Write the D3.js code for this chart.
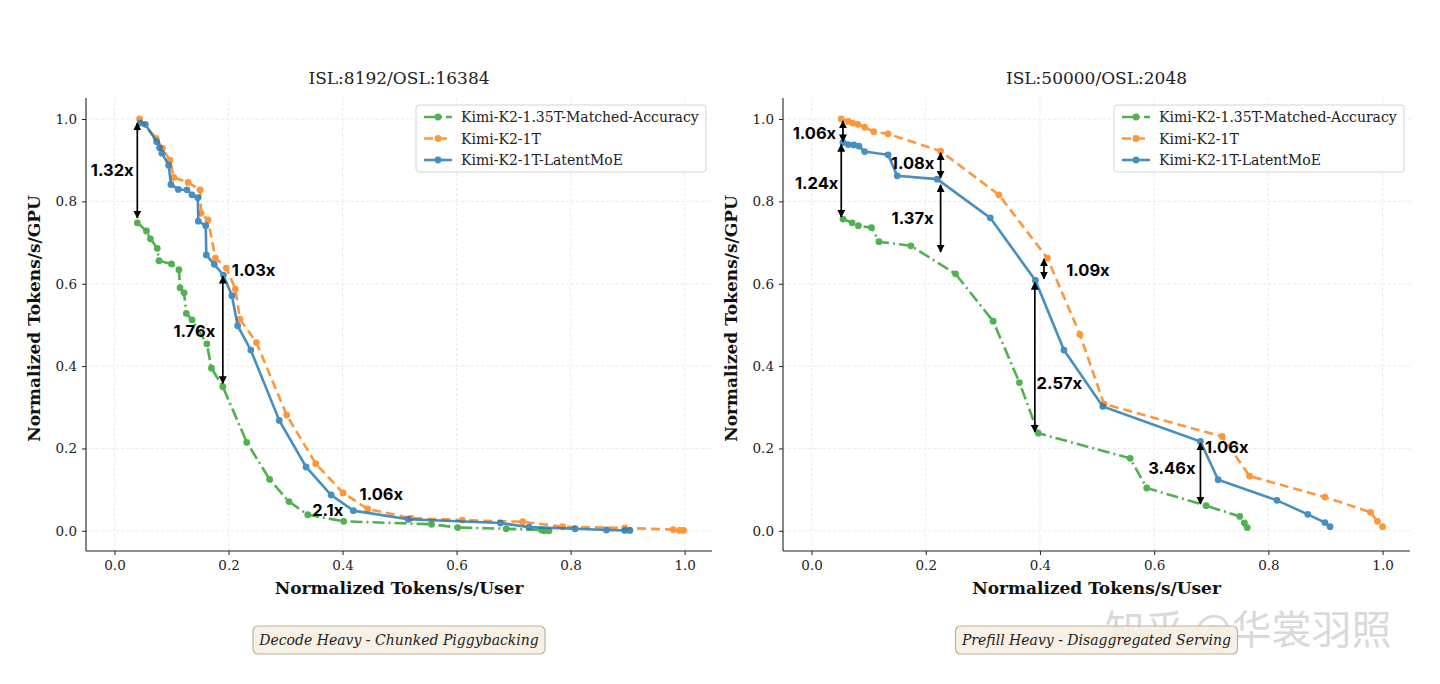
<!DOCTYPE html>
<html>
<head>
<meta charset="utf-8">
<script src="https://cdn.jsdelivr.net/npm/d3@7"></script>
<style>
  body { margin: 0; background: #fff; }
  svg { display: block; }
</style>
</head>
<body>
<div id="chart"></div>
<script>
// ---- data: left panel (ISL:8192/OSL:16384) ----
const leftGreenX = [0.040, 0.056, 0.063, 0.075, 0.078, 0.100, 0.113, 0.115, 0.122, 0.126, 0.136, 0.162, 0.170, 0.190, 0.232, 0.272, 0.306, 0.339, 0.402, 0.556, 0.602, 0.687, 0.749, 0.754, 0.762];
const leftGreenY = [0.748, 0.728, 0.709, 0.686, 0.656, 0.648, 0.634, 0.590, 0.578, 0.528, 0.512, 0.454, 0.395, 0.350, 0.215, 0.125, 0.071, 0.039, 0.023, 0.016, 0.008, 0.005, 0.002, 0.0, 0.0];
const leftOrangeX = [0.044, 0.073, 0.084, 0.097, 0.104, 0.129, 0.150, 0.152, 0.164, 0.177, 0.196, 0.212, 0.220, 0.249, 0.302, 0.353, 0.401, 0.444, 0.520, 0.610, 0.716, 0.786, 0.895, 0.980, 0.991, 0.998];
const leftOrangeY = [1.000, 0.953, 0.929, 0.900, 0.858, 0.846, 0.828, 0.771, 0.755, 0.662, 0.638, 0.587, 0.514, 0.457, 0.281, 0.163, 0.092, 0.053, 0.031, 0.026, 0.022, 0.010, 0.007, 0.003, 0.001, 0.001];
const leftBlueX = [0.045, 0.054, 0.074, 0.079, 0.083, 0.095, 0.099, 0.112, 0.127, 0.136, 0.146, 0.147, 0.160, 0.161, 0.175, 0.191, 0.206, 0.216, 0.239, 0.289, 0.336, 0.380, 0.419, 0.515, 0.677, 0.727, 0.808, 0.863, 0.895, 0.904];
const leftBlueY = [0.990, 0.987, 0.945, 0.930, 0.917, 0.888, 0.841, 0.829, 0.828, 0.816, 0.809, 0.752, 0.741, 0.670, 0.647, 0.621, 0.571, 0.498, 0.439, 0.268, 0.155, 0.087, 0.049, 0.028, 0.019, 0.009, 0.005, 0.002, 0.001, 0.001];

// ---- data: right panel (ISL:50000/OSL:2048) ----
const rightGreenX = [0.055, 0.071, 0.082, 0.105, 0.118, 0.174, 0.252, 0.318, 0.364, 0.397, 0.558, 0.587, 0.691, 0.750, 0.758, 0.763];
const rightGreenY = [0.757, 0.748, 0.741, 0.736, 0.702, 0.692, 0.624, 0.509, 0.360, 0.237, 0.176, 0.104, 0.061, 0.035, 0.019, 0.008];
const rightOrangeX = [0.052, 0.064, 0.072, 0.081, 0.093, 0.109, 0.134, 0.226, 0.328, 0.413, 0.470, 0.512, 0.719, 0.767, 0.899, 0.979, 0.991, 1.000];
const rightOrangeY = [1.000, 0.994, 0.990, 0.987, 0.980, 0.969, 0.964, 0.922, 0.816, 0.662, 0.477, 0.308, 0.229, 0.133, 0.082, 0.045, 0.023, 0.010];
const rightBlueX = [0.055, 0.064, 0.074, 0.083, 0.093, 0.134, 0.150, 0.220, 0.313, 0.392, 0.442, 0.510, 0.681, 0.712, 0.815, 0.869, 0.899, 0.908];
const rightBlueY = [0.943, 0.938, 0.937, 0.934, 0.921, 0.913, 0.862, 0.854, 0.760, 0.608, 0.439, 0.302, 0.217, 0.124, 0.074, 0.040, 0.020, 0.010];

// ---- annotations (speedup labels, arrows in data units) ----
const leftNotes = [
  { label: "1.32x", tx: -0.004, ty: 0.876, ax: 0.040, y1: 0.990, y2: 0.760 },
  { label: "1.76x", tx: 0.140, ty: 0.485, ax: 0.190, y1: 0.618, y2: 0.358 },
  { label: "1.03x", tx: 0.244, ty: 0.633, ax: null },
  { label: "2.1x", tx: 0.374, ty: 0.051, ax: null },
  { label: "1.06x", tx: 0.468, ty: 0.090, ax: null }
];
const rightNotes = [
  { label: "1.06x", tx: 0.005, ty: 0.966, ax: 0.055, y1: 0.995, y2: 0.945 },
  { label: "1.24x", tx: 0.009, ty: 0.845, ax: 0.052, y1: 0.938, y2: 0.762 },
  { label: "1.08x", tx: 0.177, ty: 0.893, ax: 0.226, y1: 0.918, y2: 0.857 },
  { label: "1.37x", tx: 0.177, ty: 0.760, ax: 0.226, y1: 0.840, y2: 0.677 },
  { label: "1.09x", tx: 0.484, ty: 0.633, ax: 0.407, y1: 0.660, y2: 0.612 },
  { label: "2.57x", tx: 0.434, ty: 0.359, ax: 0.391, y1: 0.603, y2: 0.240 },
  { label: "1.06x", tx: 0.727, ty: 0.204, ax: null },
  { label: "3.46x", tx: 0.631, ty: 0.153, ax: 0.681, y1: 0.213, y2: 0.065 }
];

const seriesNames = ["Kimi-K2-1.35T-Matched-Accuracy", "Kimi-K2-1T", "Kimi-K2-1T-LatentMoE"];
const seriesColors = ["#2ca02c", "#ff7f0e", "#1f77b4"];
const seriesDash = ["12,4,2,4", "9,5", null];
const xTicks = [0, 0.2, 0.4, 0.6, 0.8, 1.0];
const yTicks = [0, 0.2, 0.4, 0.6, 0.8, 1.0];

const panels = [
  { title: "ISL:8192/OSL:16384", caption: "Decode Heavy - Chunked Piggybacking", left: 86, right: 712,
    series: [[leftGreenX, leftGreenY], [leftOrangeX, leftOrangeY], [leftBlueX, leftBlueY]], notes: leftNotes, capW: 292 },
  { title: "ISL:50000/OSL:2048", caption: "Prefill Heavy - Disaggregated Serving", left: 783, right: 1410,
    series: [[rightGreenX, rightGreenY], [rightOrangeX, rightOrangeY], [rightBlueX, rightBlueY]], notes: rightNotes, capW: 282 }
];

const width = 1440, height = 684;
const plotTop = 98, plotBottom = 551;
const serif = "'DejaVu Serif', serif";
const boldSans = "Inter, 'DejaVu Sans', sans-serif";

const svg = d3.select("#chart").append("svg")
  .attr("width", width)
  .attr("height", height);

const defs = svg.append("defs");
["start", "end"].forEach(k => {
  defs.append("marker")
    .attr("id", "arrow-" + k)
    .attr("viewBox", "0 0 10 10")
    .attr("refX", k === "end" ? 9 : 1)
    .attr("refY", 5)
    .attr("markerWidth", 8)
    .attr("markerHeight", 8)
    .attr("markerUnits", "userSpaceOnUse")
    .attr("orient", "auto")
    .append("path")
    .attr("d", k === "end" ? "M0,0 L10,5 L0,10 Z" : "M10,0 L0,5 L10,10 Z")
    .attr("fill", "#000");
});

const y = d3.scaleLinear().domain([-0.049, 1.051]).range([plotBottom, plotTop]);

// faint watermark behind everything
svg.append("text").attr("x", 1248).attr("y", 644).attr("text-anchor", "middle")
  .attr("font-family", "'Noto Sans CJK SC', sans-serif").attr("font-size", 40)
  .attr("fill", "#b4b4b4").attr("fill-opacity", 0.5).text("知乎 @华裳羽照");

panels.forEach(p => {
  const x = d3.scaleLinear().domain([-0.05, 1.048]).range([p.left, p.right]);
  const cx = (p.left + p.right) / 2;
  const g = svg.append("g");

  // grid
  g.append("g").selectAll("line").data(xTicks).join("line")
    .attr("x1", d => x(d)).attr("x2", d => x(d))
    .attr("y1", plotTop).attr("y2", plotBottom)
    .attr("stroke", "#e6e6e6").attr("stroke-width", 0.8).attr("stroke-dasharray", "3,2");
  g.append("g").selectAll("line").data(yTicks).join("line")
    .attr("x1", p.left).attr("x2", p.right)
    .attr("y1", d => y(d)).attr("y2", d => y(d))
    .attr("stroke", "#e6e6e6").attr("stroke-width", 0.8).attr("stroke-dasharray", "3,2");

  // axes
  const xAxis = g.append("g")
    .attr("transform", `translate(0,${plotBottom})`)
    .call(d3.axisBottom(x).tickValues(xTicks).tickFormat(d3.format(".1f")).tickSizeOuter(0).tickSize(4).tickPadding(5));
  const yAxis = g.append("g")
    .attr("transform", `translate(${p.left},0)`)
    .call(d3.axisLeft(y).tickValues(yTicks).tickFormat(d3.format(".1f")).tickSizeOuter(0).tickSize(4).tickPadding(5));
  [xAxis, yAxis].forEach(a => {
    a.select(".domain").attr("stroke", "#222").attr("stroke-width", 1.1);
    a.selectAll(".tick line").attr("stroke", "#222");
    a.selectAll(".tick text").attr("font-family", serif).attr("font-size", 13.5).attr("fill", "#222");
  });
  xAxis.select(".domain").attr("d", `M${p.left},0H${p.right}`);
  yAxis.select(".domain").attr("d", `M0,${plotBottom}V${plotTop}`);

  // title & labels
  g.append("text").attr("x", cx).attr("y", 84).attr("text-anchor", "middle")
    .attr("font-family", serif).attr("font-size", 17).attr("fill", "#222").text(p.title);
  g.append("text").attr("x", cx).attr("y", 594).attr("text-anchor", "middle")
    .attr("font-family", serif).attr("font-size", 17).attr("font-weight", "bold").attr("fill", "#111")
    .text("Normalized Tokens/s/User");
  g.append("text").attr("transform", `translate(${p.left - 46},${(plotTop + plotBottom) / 2 - 6}) rotate(-90)`)
    .attr("text-anchor", "middle")
    .attr("font-family", serif).attr("font-size", 17).attr("font-weight", "bold").attr("fill", "#111")
    .text("Normalized Tokens/s/GPU");

  // series
  const line = d3.line().x(d => x(d[0])).y(d => y(d[1]));
  p.series.forEach((s, i) => {
    const pts = s[0].map((v, j) => [v, s[1][j]]);
    const sg = g.append("g").attr("opacity", 0.82);
    sg.append("path").datum(pts)
      .attr("d", line)
      .attr("fill", "none")
      .attr("stroke", seriesColors[i])
      .attr("stroke-width", 2.6)
      .attr("stroke-dasharray", seriesDash[i]);
    sg.selectAll("circle").data(pts).join("circle")
      .attr("cx", d => x(d[0])).attr("cy", d => y(d[1])).attr("r", 3.4)
      .attr("fill", seriesColors[i]);
  });

  // annotations
  p.notes.forEach(n => {
    if (n.ax !== null) {
      g.append("line")
        .attr("x1", x(n.ax)).attr("x2", x(n.ax))
        .attr("y1", y(n.y1)).attr("y2", y(n.y2))
        .attr("stroke", "#000").attr("stroke-width", 1.7)
        .attr("marker-start", "url(#arrow-start)")
        .attr("marker-end", "url(#arrow-end)");
    }
    g.append("text").attr("x", x(n.tx)).attr("y", y(n.ty))
      .attr("text-anchor", "middle").attr("dominant-baseline", "central")
      .attr("font-family", boldSans).attr("font-weight", 700).attr("font-size", 16.5)
      .attr("fill", "#000").text(n.label);
  });

  // legend
  const lx = p.right - 296, ly = 105;
  const lg = g.append("g").attr("transform", `translate(${lx},${ly})`);
  lg.append("rect").attr("width", 290).attr("height", 67).attr("rx", 3)
    .attr("fill", "#fff").attr("fill-opacity", 0.85).attr("stroke", "#d4d4d4");
  seriesNames.forEach((name, i) => {
    const ry = 12 + i * 21.5;
    const eg = lg.append("g").attr("opacity", 0.82);
    eg.append("line").attr("x1", 8).attr("x2", 36).attr("y1", ry).attr("y2", ry)
      .attr("stroke", seriesColors[i]).attr("stroke-width", 2.6)
      .attr("stroke-dasharray", seriesDash[i]);
    eg.append("circle").attr("cx", 22).attr("cy", ry).attr("r", 3.4).attr("fill", seriesColors[i]);
    lg.append("text").attr("x", 45).attr("y", ry).attr("dominant-baseline", "central")
      .attr("font-family", serif).attr("font-size", 14).attr("fill", "#222").text(name);
  });

  // caption box
  const cg = g.append("g");
  cg.append("rect").attr("x", cx - p.capW / 2).attr("y", 626).attr("width", p.capW).attr("height", 28)
    .attr("rx", 5).attr("fill", "#f6f0e2").attr("fill-opacity", 0.9).attr("stroke", "#bdb39c").attr("stroke-width", 1.2);
  cg.append("text").attr("x", cx).attr("y", 640).attr("text-anchor", "middle").attr("dominant-baseline", "central")
    .attr("font-family", serif).attr("font-style", "italic").attr("font-size", 14).attr("fill", "#222")
    .text(p.caption);
});
</script>
</body>
</html>
